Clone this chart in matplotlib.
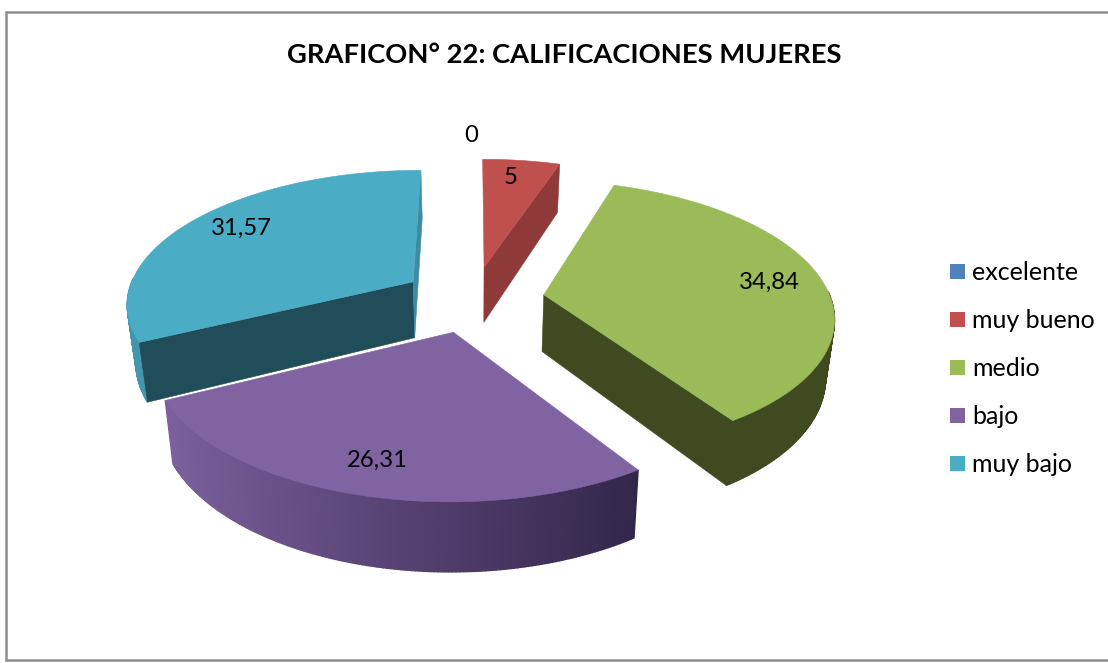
import numpy as np
import matplotlib
matplotlib.use('Agg')
import matplotlib.pyplot as plt
from matplotlib.colors import to_rgb
from matplotlib.patches import Polygon, Rectangle

categories = ['excelente', 'muy bueno', 'medio', 'bajo', 'muy bajo']
values = [0, 5, 34.84, 26.31, 31.57]
value_labels = ['0', '5', '34,84', '26,31', '31,57']
top_colors = ['#4F81BD', '#C0504D', '#9BBB59', '#8064A2', '#4BACC6']
wall_colors = ['#2F4D71', '#8E3A38', '#3F4A21', '#5F4A7A', '#214C5A']
rim_left = ['#4F81BD', '#C0504D', '#3F4A21', '#7C619E', '#4496AD']
rim_right = ['#2F4D71', '#8E3A38', '#3F4A21', '#32264A', '#3F8CA2']

plt.rcParams['font.family'] = ['Lato', 'DejaVu Sans']

W, H = 1108, 663
CX, CY = 473, 299
A, B, K = 287, 133, 0.15
DEPTH = 57
SHRINK = 0.975
EXPLODE = 0.25


def project(x, y, bottom=False):
    s = 1 / (1 + K * y)
    px = A * x * s
    py = CY - B * y * s
    if bottom:
        px = px * SHRINK
        py = py + DEPTH * s
    return CX + px, py


def blend(c1, c2, f):
    a, b = np.array(to_rgb(c1)), np.array(to_rgb(c2))
    return tuple(a + (b - a) * f)


fig = plt.figure(figsize=(W / 100, H / 100), dpi=100)
ax = fig.add_axes([0, 0, 1, 1])
ax.set_xlim(0, W)
ax.set_ylim(H, 0)
ax.axis('off')

ax.add_patch(Rectangle((6, 12), W + 20, 648, fc='white', ec='#8C8C8C', lw=1.8))
ax.text(564, 55, 'GRAFICON° 22: CALIFICACIONES MUJERES', ha='center', va='center',
        fontsize=19.7, fontweight='bold', color='black')

angles = 360 * np.cumsum([0] + values) / sum(values)
slices = []
for i in range(len(values)):
    t0, t1 = np.radians(angles[i]), np.radians(angles[i + 1])
    mid = (t0 + t1) / 2
    slices.append((i, t0, t1, EXPLODE * np.sin(mid), EXPLODE * np.cos(mid)))


def rim(t, ox, oy, bottom=False):
    return project(ox + np.sin(t), oy + np.cos(t), bottom)


# back to front: red, blue, green, purple
for i, t0, t1, ox, oy in [slices[j] for j in (1, 4, 2, 3)]:
    if values[i] == 0:
        continue
    ts = np.linspace(t0, t1, 160)

    # outer wall, only the part that faces the viewer
    for a, b in zip(ts[:-1], ts[1:]):
        if np.cos((a + b) / 2) > 0.02:
            continue
        f = np.clip((0.55 - np.sin((a + b) / 2)) / 1.45, 0, 1)
        quad = [rim(a, ox, oy), rim(b, ox, oy), rim(b, ox, oy, True), rim(a, ox, oy, True)]
        col = blend(rim_right[i], rim_left[i], f)
        ax.add_patch(Polygon(quad, fc=col, ec=col, lw=1.0))

    # cut faces: end face of red and green, start face of blue
    apex, apex_b = project(ox, oy), project(ox, oy, True)
    if i in (1, 2):
        quad = [apex, rim(t1, ox, oy), rim(t1, ox, oy, True), apex_b]
        ax.add_patch(Polygon(quad, fc=wall_colors[i], ec=wall_colors[i], lw=0.4))
    if i == 4:
        quad = [apex, rim(t0, ox, oy), rim(t0, ox, oy, True), apex_b]
        ax.add_patch(Polygon(quad, fc=wall_colors[i], ec=wall_colors[i], lw=0.4))
        # sliver of the right end of the blue slice
        quad = [apex, rim(t1, ox, oy), rim(t1, ox, oy, True), apex_b]
        ax.add_patch(Polygon(quad, fc=rim_right[i], ec=rim_right[i], lw=0.4))

    top = [apex] + [rim(t, ox, oy) for t in ts]
    ax.add_patch(Polygon(top, fc=top_colors[i], ec=top_colors[i], lw=0.4))

label_pos = [(471, 136), (511, 177), (769, 282), (377, 460), (241, 228)]
for txt, (x, y) in zip(value_labels, label_pos):
    ax.text(x, y, txt, ha='center', va='center', fontsize=17.2, color='black')

for k, (name, col) in enumerate(zip(categories, top_colors)):
    y = 271.5 + k * 48
    ax.add_patch(Rectangle((950, y - 7.5), 15, 15, fc=col, ec='none'))
    ax.text(972, y + 0.5, name, ha='left', va='center', fontsize=18, color='black')

fig.savefig('out.png', dpi=100)
